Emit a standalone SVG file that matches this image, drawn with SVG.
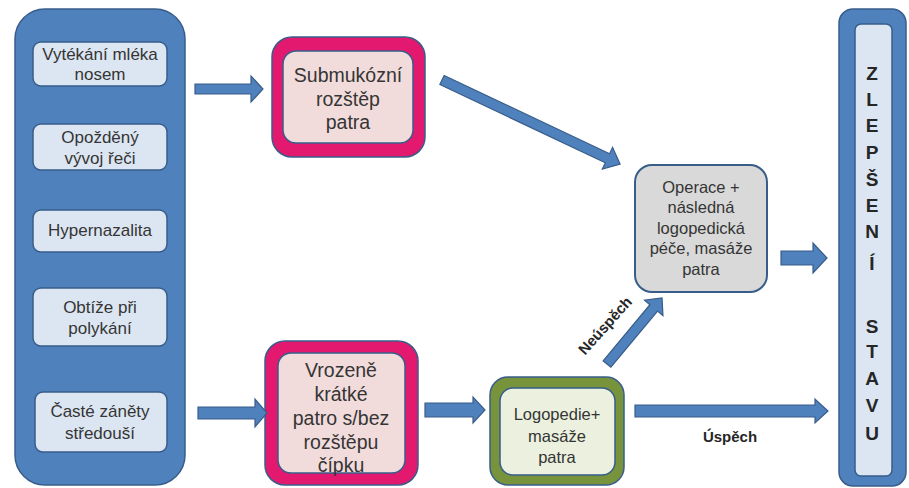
<svg xmlns="http://www.w3.org/2000/svg" width="909" height="488" viewBox="0 0 909 488">
<style>
  .panel{fill:#4f81bd;stroke:#385d8a;stroke-width:1.5}
  .sym{fill:#dce6f2;stroke:#385d8a;stroke-width:1.5}
  .pinko{fill:#e2196f;stroke:#385d8a;stroke-width:1.5}
  .pinki{fill:#f2dcdb;stroke:#385d8a;stroke-width:1.5}
  .greeno{fill:#77933c;stroke:#385d8a;stroke-width:1.5}
  .greeni{fill:#ebf1de;stroke:#385d8a;stroke-width:1.5}
  .gray{fill:#d9d9d9;stroke:#385d8a;stroke-width:2}
  .arr{fill:#4f81bd;stroke:#385d8a;stroke-width:1.2;stroke-linejoin:miter}
  text{font-family:"Liberation Sans",Arial,sans-serif;fill:#353535;text-anchor:middle}
  .t18{font-size:17px}
  .t20{font-size:19.5px}
  .t16{font-size:16.5px}
  .lab{font-size:15px;font-weight:bold;fill:#262626}
  .let{font-size:19px;font-weight:bold;fill:#262626}
</style>

<g id="symptoms">
  <rect class="panel" x="15" y="9" width="170" height="476" rx="30"/>
  <g id="s1"><rect class="sym" x="33" y="42" width="134" height="44" rx="8"/>
    <text class="t18" x="100" y="60">Vytékání mléka</text><text class="t18" x="100" y="80">nosem</text></g>
  <g id="s2"><rect class="sym" x="33" y="124" width="134" height="46" rx="8"/>
    <text class="t18" x="100" y="143">Opožděný</text><text class="t18" x="100" y="164">vývoj řeči</text></g>
  <g id="s3"><rect class="sym" x="33" y="210" width="134" height="42" rx="8"/>
    <text class="t18" x="100" y="236">Hypernazalita</text></g>
  <g id="s4"><rect class="sym" x="33" y="288" width="134" height="58" rx="8"/>
    <text class="t18" x="100" y="313">Obtíže při</text><text class="t18" x="100" y="334">polykání</text></g>
  <g id="s5"><rect class="sym" x="35" y="392" width="132" height="60" rx="8"/>
    <text class="t18" x="100" y="417">Časté záněty</text><text class="t18" x="100" y="439">středouší</text></g>
</g>

<g id="submukozni">
  <rect class="pinko" x="272" y="37" width="153" height="120" rx="20"/>
  <rect class="pinki" x="283" y="51" width="130" height="92" rx="13"/>
  <text class="t20" x="348" y="82">Submukózní</text>
  <text class="t20" x="348" y="106">rozštěp</text>
  <text class="t20" x="348" y="129">patra</text>
</g>

<g id="vrozene">
  <rect class="pinko" x="265" y="341" width="153" height="144" rx="20"/>
  <rect class="pinki" x="278" y="353" width="127" height="120" rx="13"/>
  <text class="t20" x="341" y="377">Vrozeně</text>
  <text class="t20" x="341" y="401">krátké</text>
  <text class="t20" x="341" y="425">patro s/bez</text>
  <text class="t20" x="341" y="449">rozštěpu</text>
  <text class="t20" x="341" y="472">čípku</text>
</g>

<g id="logopedie">
  <rect class="greeno" x="490" y="377" width="134" height="108" rx="18"/>
  <rect class="greeni" x="500" y="388" width="115" height="87" rx="13"/>
  <text class="t16" x="557" y="420">Logopedie+</text>
  <text class="t16" x="557" y="442">masáže</text>
  <text class="t16" x="557" y="463">patra</text>
</g>

<g id="operace">
  <rect class="gray" x="635" y="165" width="132" height="127" rx="17"/>
  <text class="t16" x="701" y="193">Operace +</text>
  <text class="t16" x="701" y="213">následná</text>
  <text class="t16" x="701" y="234">logopedická</text>
  <text class="t16" x="701" y="254">péče, masáže</text>
  <text class="t16" x="701" y="275">patra</text>
</g>

<g id="zlepseni">
  <rect class="panel" x="839" y="9" width="67" height="477" rx="14"/>
  <rect class="sym" x="855" y="24" width="37" height="452" rx="6"/>
  <text class="let" x="872" y="80">Z</text>
  <text class="let" x="872" y="106">L</text>
  <text class="let" x="872" y="132">E</text>
  <text class="let" x="872" y="159">P</text>
  <text class="let" x="872" y="186">Š</text>
  <text class="let" x="872" y="212">E</text>
  <text class="let" x="872" y="238">N</text>
  <text class="let" x="872" y="270">Í</text>
  <text class="let" x="872" y="333">S</text>
  <text class="let" x="872" y="358">T</text>
  <text class="let" x="872" y="385">A</text>
  <text class="let" x="872" y="412">V</text>
  <text class="let" x="872" y="440">U</text>
</g>

<g id="connectors">
  <polygon class="arr" points="195,84 251,84 251,76 263,89 251,102 251,94 195,94"/>
  <polygon class="arr" points="198,407 255,407 255,399 267,413 255,427 255,419 198,419"/>
  <polygon class="arr" points="425,403 473,403 473,397 485,410 473,423 473,417 425,417"/>
  <polygon class="arr" points="781,251 813,251 813,243 827,258 813,273 813,265 781,265"/>
  <polygon class="arr" points="635,405 815,405 815,399 828,411 815,423 815,417 635,417"/>
  <polygon class="arr" transform="translate(442,80) rotate(25.3)" points="0,-5 183,-5 183,-12 197,0 183,12 183,5 0,5"/>
  <polygon class="arr" transform="translate(607,364) rotate(-50.2)" points="0,-5 73,-5 73,-12 86,0 73,12 73,5 0,5"/>
  <text class="lab" transform="translate(609,329) rotate(-48)">Neúspěch</text>
  <text class="lab" x="730" y="442">Úspěch</text>
</g>
</svg>
